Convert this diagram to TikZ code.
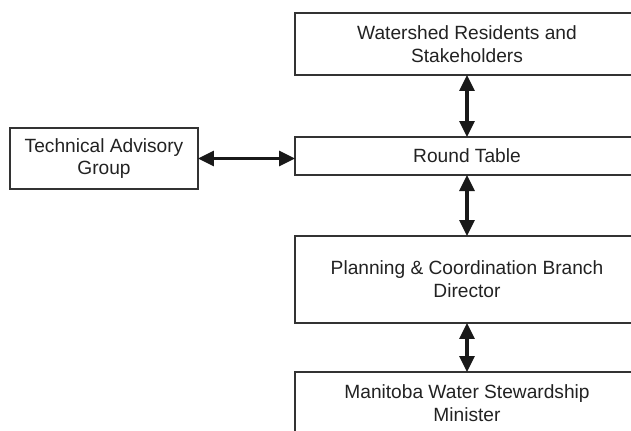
\documentclass[tikz,border=0pt]{standalone}
\usepackage{fontspec}
\setmainfont{Liberation Sans}
\usetikzlibrary{arrows.meta}
\definecolor{boxline}{HTML}{333333}
\definecolor{boxtext}{HTML}{222222}
\tikzset{
  orgbox/.style={draw=boxline,line width=0.7pt,rectangle,inner sep=0pt,outer sep=0pt,
    align=center,text=boxtext,font=\fontsize{10.9}{13}\selectfont},
  link/.style={line width=1.8pt,draw=black!90,{Triangle[length=0.32cm,width=0.3cm]}-{Triangle[length=0.32cm,width=0.3cm]}}
}
\begin{document}
\begin{tikzpicture}[x=0.02cm,y=-0.02cm]
\pgfmathsetmacro{\xc}{467}
\pgfmathsetmacro{\wc}{344*0.02}
\useasboundingbox (0,0) rectangle (631,430);
\clip (0,0) rectangle (631,430);
  \node[orgbox,minimum width=\wc cm,minimum height=1.24cm] (residents) at (\xc,44) {Watershed Residents and\\Stakeholders};
  \node[orgbox,minimum width=\wc cm,minimum height=0.76cm] (roundtable) at (\xc,156) {Round Table};
  \node[orgbox,minimum width=\wc cm,minimum height=1.74cm] (director) at (\xc,279.5) {Planning \& Coordination Branch\\Director};
  \node[orgbox,minimum width=\wc cm,minimum height=1.24cm] (minister) at (\xc,403) {Manitoba Water Stewardship\\Minister};
  \node[orgbox,minimum width=3.76cm,minimum height=1.22cm] (advisory) at (104,158.5) {Technical Advisory\\Group};
  \draw[link] (residents) -- (roundtable);
  \draw[link] (roundtable) -- (director);
  \draw[link] (director) -- (minister);
  \draw[link] (advisory.east) -- (advisory.east -| roundtable.west);
\end{tikzpicture}
\end{document}
